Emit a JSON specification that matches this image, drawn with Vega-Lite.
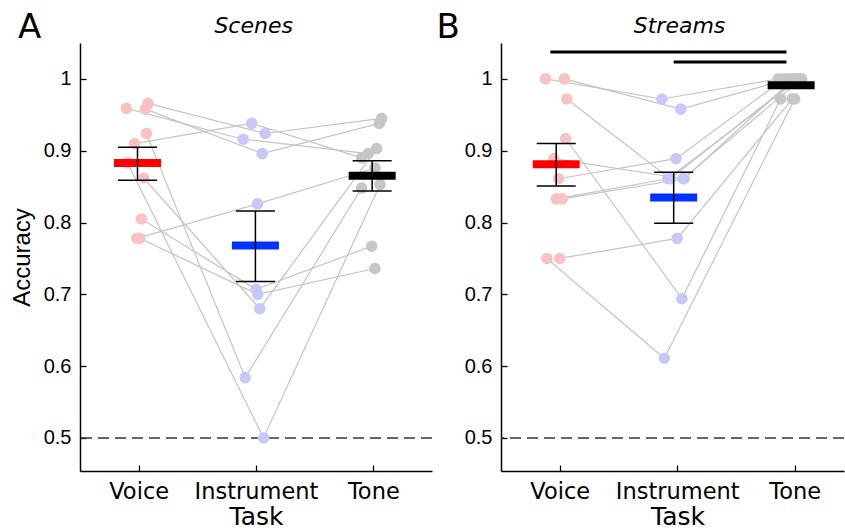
{
  "$schema": "https://vega.github.io/schema/vega-lite/v6.json",
  "padding": {"left": 10, "top": 10, "right": 0, "bottom": 0},
  "spacing": 3,
  "config": {
    "view": {"stroke": null},
    "font": "DejaVu Sans",
    "axis": {"domainColor": "#000", "domainWidth": 1.5, "tickColor": "#000", "tickSize": -6, "tickWidth": 1.3, "grid": false, "labelColor": "#000", "titleColor": "#000", "titleFontWeight": "normal"}
  },
  "datasets": {
    "one": [{"k": 1}],
    "pts": [
      {"panel": "A", "subject": 1, "task": "Voice", "t": 1, "pos": 0.895, "acc": 0.959},
      {"panel": "A", "subject": 1, "task": "Instrument", "t": 2, "pos": 1.891, "acc": 0.916},
      {"panel": "A", "subject": 1, "task": "Tone", "t": 3, "pos": 2.957, "acc": 0.896},
      {"panel": "A", "subject": 2, "task": "Voice", "t": 1, "pos": 1.08, "acc": 0.966},
      {"panel": "A", "subject": 2, "task": "Instrument", "t": 2, "pos": 2.078, "acc": 0.924},
      {"panel": "A", "subject": 2, "task": "Tone", "t": 3, "pos": 3.071, "acc": 0.945},
      {"panel": "A", "subject": 3, "task": "Voice", "t": 1, "pos": 1.057, "acc": 0.958},
      {"panel": "A", "subject": 3, "task": "Instrument", "t": 2, "pos": 2.053, "acc": 0.896},
      {"panel": "A", "subject": 3, "task": "Tone", "t": 3, "pos": 3.051, "acc": 0.938},
      {"panel": "A", "subject": 4, "task": "Voice", "t": 1, "pos": 0.966, "acc": 0.91},
      {"panel": "A", "subject": 4, "task": "Instrument", "t": 2, "pos": 1.964, "acc": 0.938},
      {"panel": "A", "subject": 4, "task": "Tone", "t": 3, "pos": 2.9, "acc": 0.89},
      {"panel": "A", "subject": 5, "task": "Voice", "t": 1, "pos": 1.065, "acc": 0.924},
      {"panel": "A", "subject": 5, "task": "Instrument", "t": 2, "pos": 1.908, "acc": 0.584},
      {"panel": "A", "subject": 5, "task": "Tone", "t": 3, "pos": 2.9, "acc": 0.848},
      {"panel": "A", "subject": 6, "task": "Voice", "t": 1, "pos": 0.906, "acc": 0.883},
      {"panel": "A", "subject": 6, "task": "Instrument", "t": 2, "pos": 2.064, "acc": 0.5},
      {"panel": "A", "subject": 6, "task": "Tone", "t": 3, "pos": 3.057, "acc": 0.853},
      {"panel": "A", "subject": 7, "task": "Voice", "t": 1, "pos": 1.043, "acc": 0.862},
      {"panel": "A", "subject": 7, "task": "Instrument", "t": 2, "pos": 2.032, "acc": 0.68},
      {"panel": "A", "subject": 7, "task": "Tone", "t": 3, "pos": 3.028, "acc": 0.903},
      {"panel": "A", "subject": 8, "task": "Voice", "t": 1, "pos": 1.023, "acc": 0.805},
      {"panel": "A", "subject": 8, "task": "Instrument", "t": 2, "pos": 2.0, "acc": 0.707},
      {"panel": "A", "subject": 8, "task": "Tone", "t": 3, "pos": 2.986, "acc": 0.767},
      {"panel": "A", "subject": 9, "task": "Voice", "t": 1, "pos": 1.009, "acc": 0.778},
      {"panel": "A", "subject": 9, "task": "Instrument", "t": 2, "pos": 2.015, "acc": 0.7},
      {"panel": "A", "subject": 9, "task": "Tone", "t": 3, "pos": 3.014, "acc": 0.736},
      {"panel": "A", "subject": 10, "task": "Voice", "t": 1, "pos": 0.983, "acc": 0.778},
      {"panel": "A", "subject": 10, "task": "Instrument", "t": 2, "pos": 2.013, "acc": 0.826},
      {"panel": "A", "subject": 10, "task": "Tone", "t": 3, "pos": 3.014, "acc": 0.876},
      {"panel": "B", "subject": 1, "task": "Voice", "t": 1, "pos": 0.88, "acc": 1.0},
      {"panel": "B", "subject": 1, "task": "Instrument", "t": 2, "pos": 1.87, "acc": 0.972},
      {"panel": "B", "subject": 1, "task": "Tone", "t": 3, "pos": 2.86, "acc": 1.0},
      {"panel": "B", "subject": 2, "task": "Voice", "t": 1, "pos": 1.04, "acc": 1.0},
      {"panel": "B", "subject": 2, "task": "Instrument", "t": 2, "pos": 2.03, "acc": 0.958},
      {"panel": "B", "subject": 2, "task": "Tone", "t": 3, "pos": 2.95, "acc": 1.0},
      {"panel": "B", "subject": 3, "task": "Voice", "t": 1, "pos": 1.06, "acc": 0.972},
      {"panel": "B", "subject": 3, "task": "Instrument", "t": 2, "pos": 1.94, "acc": 0.861},
      {"panel": "B", "subject": 3, "task": "Tone", "t": 3, "pos": 3.02, "acc": 1.0},
      {"panel": "B", "subject": 4, "task": "Voice", "t": 1, "pos": 1.05, "acc": 0.917},
      {"panel": "B", "subject": 4, "task": "Instrument", "t": 2, "pos": 2.04, "acc": 0.694},
      {"panel": "B", "subject": 4, "task": "Tone", "t": 3, "pos": 2.88, "acc": 0.972},
      {"panel": "B", "subject": 5, "task": "Voice", "t": 1, "pos": 0.95, "acc": 0.889},
      {"panel": "B", "subject": 5, "task": "Instrument", "t": 2, "pos": 2.05, "acc": 0.861},
      {"panel": "B", "subject": 5, "task": "Tone", "t": 3, "pos": 3.06, "acc": 1.0},
      {"panel": "B", "subject": 6, "task": "Voice", "t": 1, "pos": 0.99, "acc": 0.861},
      {"panel": "B", "subject": 6, "task": "Instrument", "t": 2, "pos": 1.99, "acc": 0.889},
      {"panel": "B", "subject": 6, "task": "Tone", "t": 3, "pos": 2.91, "acc": 1.0},
      {"panel": "B", "subject": 7, "task": "Voice", "t": 1, "pos": 0.97, "acc": 0.833},
      {"panel": "B", "subject": 7, "task": "Instrument", "t": 2, "pos": 1.92, "acc": 0.861},
      {"panel": "B", "subject": 7, "task": "Tone", "t": 3, "pos": 3.04, "acc": 1.0},
      {"panel": "B", "subject": 8, "task": "Voice", "t": 1, "pos": 1.02, "acc": 0.833},
      {"panel": "B", "subject": 8, "task": "Instrument", "t": 2, "pos": 2.06, "acc": 0.861},
      {"panel": "B", "subject": 8, "task": "Tone", "t": 3, "pos": 2.99, "acc": 1.0},
      {"panel": "B", "subject": 9, "task": "Voice", "t": 1, "pos": 1.0, "acc": 0.75},
      {"panel": "B", "subject": 9, "task": "Instrument", "t": 2, "pos": 2.0, "acc": 0.778},
      {"panel": "B", "subject": 9, "task": "Tone", "t": 3, "pos": 2.98, "acc": 0.972},
      {"panel": "B", "subject": 10, "task": "Voice", "t": 1, "pos": 0.89, "acc": 0.75},
      {"panel": "B", "subject": 10, "task": "Instrument", "t": 2, "pos": 1.89, "acc": 0.611},
      {"panel": "B", "subject": 10, "task": "Tone", "t": 3, "pos": 3.0, "acc": 0.972}
    ],
    "means": [
      {"panel": "A", "task": "Voice", "pos": 0.99, "mean": 0.883, "lo": 0.859, "hi": 0.905},
      {"panel": "A", "task": "Instrument", "pos": 1.995, "mean": 0.768, "lo": 0.718, "hi": 0.816},
      {"panel": "A", "task": "Tone", "pos": 2.99, "mean": 0.865, "lo": 0.844, "hi": 0.886},
      {"panel": "B", "task": "Voice", "pos": 0.97, "mean": 0.881, "lo": 0.851, "hi": 0.91},
      {"panel": "B", "task": "Instrument", "pos": 1.97, "mean": 0.835, "lo": 0.799, "hi": 0.87},
      {"panel": "B", "task": "Tone", "pos": 2.97, "mean": 0.991, "lo": 0.986, "hi": 0.996}
    ],
    "sig": [
      {"x1": 0.92, "x2": 2.93, "y": 1.0376},
      {"x1": 1.97, "x2": 2.93, "y": 1.0237}
    ]
  },
  "hconcat": [
    {
      "width": 352,
      "height": 428,
      "resolve": {"scale": {"color": "independent"}},
      "layer": [
        {
          "data": {"name": "one"},
          "mark": {"type": "rule", "strokeDash": [11, 6], "color": "#333333", "strokeWidth": 1.6},
          "encoding": {
            "y": {"datum": 0.5, "type": "quantitative", "scale": {"domain": [0.454, 1.05], "nice": false, "zero": false}}
          }
        },
        {
          "data": {"name": "pts"},
          "transform": [{"filter": "datum.panel == 'A'"}],
          "mark": {"type": "line", "color": "#c4c4c4", "strokeWidth": 1.2},
          "encoding": {
            "x": {"field": "pos", "type": "quantitative", "scale": {"domain": [0.5, 3.5], "nice": false, "zero": false},
              "axis": {"values": [1, 2, 3], "labelExpr": "datum.value == 1 ? 'Voice' : datum.value == 2 ? 'Instrument' : 'Tone'", "title": "Task", "labelFontSize": 22.5, "titleFontSize": 25, "labelPadding": 15, "titlePadding": 2, "labelFont": "DejaVu Sans", "titleFont": "DejaVu Sans"}},
            "y": {"field": "acc", "type": "quantitative",
              "axis": {"values": [0.5, 0.6, 0.7, 0.8, 0.9, 1], "labelExpr": "datum.value == 1 ? '1' : format(datum.value, '.1f')", "title": "Accuracy", "labelFont": "Liberation Sans", "labelFontSize": 20, "titleFont": "Liberation Sans", "titleFontSize": 24, "labelPadding": 15, "titlePadding": 9}},
            "detail": {"field": "subject"},
            "order": {"field": "t"}
          }
        },
        {
          "data": {"name": "pts"},
          "transform": [{"filter": "datum.panel == 'A'"}],
          "mark": {"type": "circle", "size": 135, "opacity": 1},
          "encoding": {
            "x": {"field": "pos", "type": "quantitative"},
            "y": {"field": "acc", "type": "quantitative"},
            "color": {"field": "task", "type": "nominal", "scale": {"domain": ["Voice", "Instrument", "Tone"], "range": ["#f8c2c2", "#c7c8fa", "#c6c6c6"]}, "legend": null}
          }
        },
        {
          "data": {"name": "means"},
          "transform": [{"filter": "datum.panel == 'A'"}],
          "mark": {"type": "tick", "orient": "horizontal", "size": 47, "thickness": 8, "opacity": 1},
          "encoding": {
            "x": {"field": "pos", "type": "quantitative"},
            "y": {"field": "mean", "type": "quantitative"},
            "color": {"field": "task", "type": "nominal", "scale": {"domain": ["Voice", "Instrument", "Tone"], "range": ["#ff0000", "#0033ff", "#000000"]}, "legend": null}
          }
        },
        {
          "data": {"name": "means"},
          "transform": [{"filter": "datum.panel == 'A'"}],
          "mark": {"type": "rule", "color": "#000", "strokeWidth": 1.5},
          "encoding": {
            "x": {"field": "pos", "type": "quantitative"},
            "y": {"field": "lo", "type": "quantitative"},
            "y2": {"field": "hi"}
          }
        },
        {
          "data": {"name": "means"},
          "transform": [{"filter": "datum.panel == 'A'"}],
          "mark": {"type": "tick", "orient": "horizontal", "size": 39, "thickness": 1.5, "color": "#000", "opacity": 1},
          "encoding": {
            "x": {"field": "pos", "type": "quantitative"},
            "y": {"field": "lo", "type": "quantitative"}
          }
        },
        {
          "data": {"name": "means"},
          "transform": [{"filter": "datum.panel == 'A'"}],
          "mark": {"type": "tick", "orient": "horizontal", "size": 39, "thickness": 1.5, "color": "#000", "opacity": 1},
          "encoding": {
            "x": {"field": "pos", "type": "quantitative"},
            "y": {"field": "hi", "type": "quantitative"}
          }
        },
        {
          "data": {"name": "one"},
          "mark": {"type": "text", "text": "A", "fontSize": 34, "font": "DejaVu Sans", "align": "center", "baseline": "middle", "color": "#000"},
          "encoding": {
            "x": {"datum": 0.07, "type": "quantitative"},
            "y": {"datum": 1.071, "type": "quantitative"}
          }
        },
        {
          "data": {"name": "one"},
          "mark": {"type": "text", "text": "Scenes", "fontSize": 22, "fontStyle": "italic", "font": "DejaVu Sans", "align": "center", "baseline": "middle", "color": "#000"},
          "encoding": {
            "x": {"datum": 1.98, "type": "quantitative"},
            "y": {"datum": 1.0737, "type": "quantitative"}
          }
        }
      ]
    },
    {
      "width": 343,
      "height": 428,
      "resolve": {"scale": {"color": "independent"}},
      "layer": [
        {
          "data": {"name": "one"},
          "mark": {"type": "rule", "strokeDash": [11, 6], "color": "#333333", "strokeWidth": 1.6},
          "encoding": {
            "y": {"datum": 0.5, "type": "quantitative", "scale": {"domain": [0.454, 1.05], "nice": false, "zero": false}}
          }
        },
        {
          "data": {"name": "sig"},
          "mark": {"type": "rule", "color": "#000", "strokeWidth": 3},
          "encoding": {
            "x": {"field": "x1", "type": "quantitative"},
            "x2": {"field": "x2"},
            "y": {"field": "y", "type": "quantitative"}
          }
        },
        {
          "data": {"name": "pts"},
          "transform": [{"filter": "datum.panel == 'B'"}],
          "mark": {"type": "line", "color": "#c4c4c4", "strokeWidth": 1.2},
          "encoding": {
            "x": {"field": "pos", "type": "quantitative", "scale": {"domain": [0.5, 3.42], "nice": false, "zero": false},
              "axis": {"values": [1, 2, 3], "labelExpr": "datum.value == 1 ? 'Voice' : datum.value == 2 ? 'Instrument' : 'Tone'", "title": "Task", "labelFontSize": 22.5, "titleFontSize": 25, "labelPadding": 15, "titlePadding": 2, "labelFont": "DejaVu Sans", "titleFont": "DejaVu Sans", "titleX": 176.5}},
            "y": {"field": "acc", "type": "quantitative",
              "axis": {"values": [0.5, 0.6, 0.7, 0.8, 0.9, 1], "labelExpr": "datum.value == 1 ? '1' : format(datum.value, '.1f')", "title": null, "labelFont": "Liberation Sans", "labelFontSize": 20, "labelPadding": 15}},
            "detail": {"field": "subject"},
            "order": {"field": "t"}
          }
        },
        {
          "data": {"name": "pts"},
          "transform": [{"filter": "datum.panel == 'B'"}],
          "mark": {"type": "circle", "size": 135, "opacity": 1},
          "encoding": {
            "x": {"field": "pos", "type": "quantitative"},
            "y": {"field": "acc", "type": "quantitative"},
            "color": {"field": "task", "type": "nominal", "scale": {"domain": ["Voice", "Instrument", "Tone"], "range": ["#f8c2c2", "#c7c8fa", "#c6c6c6"]}, "legend": null}
          }
        },
        {
          "data": {"name": "means"},
          "transform": [{"filter": "datum.panel == 'B'"}],
          "mark": {"type": "tick", "orient": "horizontal", "size": 47, "thickness": 8, "opacity": 1},
          "encoding": {
            "x": {"field": "pos", "type": "quantitative"},
            "y": {"field": "mean", "type": "quantitative"},
            "color": {"field": "task", "type": "nominal", "scale": {"domain": ["Voice", "Instrument", "Tone"], "range": ["#ff0000", "#0033ff", "#000000"]}, "legend": null}
          }
        },
        {
          "data": {"name": "means"},
          "transform": [{"filter": "datum.panel == 'B'"}],
          "mark": {"type": "rule", "color": "#000", "strokeWidth": 1.5},
          "encoding": {
            "x": {"field": "pos", "type": "quantitative"},
            "y": {"field": "lo", "type": "quantitative"},
            "y2": {"field": "hi"}
          }
        },
        {
          "data": {"name": "means"},
          "transform": [{"filter": "datum.panel == 'B' && datum.task != 'Tone'"}],
          "mark": {"type": "tick", "orient": "horizontal", "size": 39, "thickness": 1.5, "color": "#000", "opacity": 1},
          "encoding": {
            "x": {"field": "pos", "type": "quantitative"},
            "y": {"field": "lo", "type": "quantitative"}
          }
        },
        {
          "data": {"name": "means"},
          "transform": [{"filter": "datum.panel == 'B' && datum.task != 'Tone'"}],
          "mark": {"type": "tick", "orient": "horizontal", "size": 39, "thickness": 1.5, "color": "#000", "opacity": 1},
          "encoding": {
            "x": {"field": "pos", "type": "quantitative"},
            "y": {"field": "hi", "type": "quantitative"}
          }
        },
        {
          "data": {"name": "one"},
          "mark": {"type": "text", "text": "B", "fontSize": 34, "font": "DejaVu Sans", "align": "center", "baseline": "middle", "color": "#000"},
          "encoding": {
            "x": {"datum": 0.05, "type": "quantitative"},
            "y": {"datum": 1.071, "type": "quantitative"}
          }
        },
        {
          "data": {"name": "one"},
          "mark": {"type": "text", "text": "Streams", "fontSize": 22, "fontStyle": "italic", "font": "DejaVu Sans", "align": "center", "baseline": "middle", "color": "#000"},
          "encoding": {
            "x": {"datum": 2.02, "type": "quantitative"},
            "y": {"datum": 1.0737, "type": "quantitative"}
          }
        }
      ]
    }
  ]
}
